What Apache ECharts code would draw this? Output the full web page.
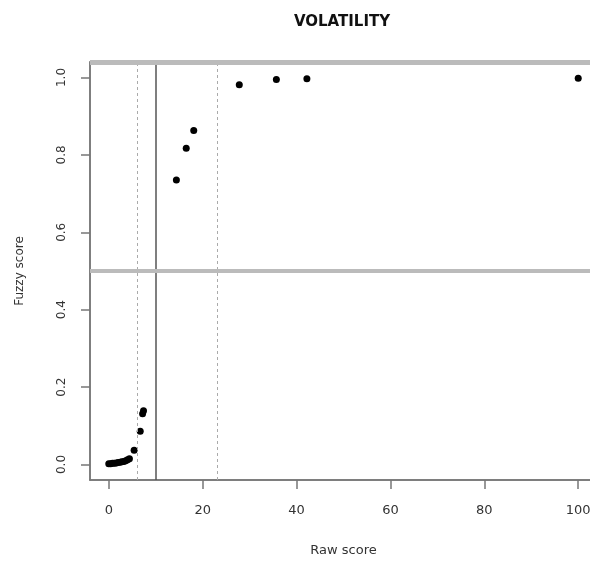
<!DOCTYPE html>
<html>
<head>
    <meta charset="utf-8">
    <title>VOLATILITY</title>
    <script src="https://cdn.jsdelivr.net/npm/echarts@6/dist/echarts.min.js"></script>
    <style>
        body { margin: 0; background: #fff; }
    </style>
</head>
<body>
<div id="main" style="width: 590px;height:563px;"></div>
<script type="text/javascript">
    // raw score vs fuzzy score
    var rawScore = [0, 0.4, 0.8, 1.2, 1.6, 2.0, 2.4, 2.8, 3.2, 3.6, 4.0, 4.4,
                    5.4, 6.7, 7.2, 7.4, 14.4, 16.5, 18.1, 27.8, 35.7, 42.2, 100];
    var fuzzyScore = [0.002, 0.002, 0.003, 0.003, 0.004, 0.005, 0.006, 0.007, 0.008, 0.010, 0.012, 0.015,
                      0.037, 0.086, 0.131, 0.139, 0.735, 0.817, 0.863, 0.981, 0.995, 0.997, 0.998];
    var xTicks = [0, 20, 40, 60, 80, 100];
    var yTicks = [0, 0.2, 0.4, 0.6, 0.8, 1.0];
    var dottedCuts = [6, 23];   // dotted vertical lines
    var solidCut = 10;          // solid vertical line
    var hLine = 0.5;

    var points = [];
    for (var i = 0; i < rawScore.length; i++) {
        points.push([rawScore[i], fuzzyScore[i]]);
    }

    var vLines = [];
    dottedCuts.forEach(function (v) {
        vLines.push({ xAxis: v, lineStyle: { color: '#aaa', type: [3, 3], width: 1 } });
    });
    vLines.push({ xAxis: solidCut, lineStyle: { color: '#555', type: 'solid', width: 1.5 } });
    vLines.push({ yAxis: hLine, lineStyle: { color: '#bbb', type: 'solid', width: 4 } });
    vLines.push({ yAxis: 1.04, lineStyle: { color: '#bbb', type: 'solid', width: 5 } });

    var font = 'DejaVu Sans, Liberation Sans, sans-serif';
    var myChart = echarts.init(document.getElementById('main'));
    var option = {
        animation: false,
        title: {
            text: 'VOLATILITY',
            left: 337,
            top: 10,
            textAlign: 'center',
            textStyle: { fontFamily: font, fontSize: 15, fontWeight: 'bold', color: '#111' }
        },
        grid: {
            left: 90, top: 62, width: 507, height: 418,
            outerBoundsMode: 'none',
            containLabel: false,
            show: true, borderColor: '#777', borderWidth: 1.5
        },
        xAxis: {
            type: 'value',
            min: -4, max: 104,
            name: 'Raw score',
            nameLocation: 'middle',
            nameGap: 64,
            nameTextStyle: { fontFamily: font, fontSize: 13, color: '#333' },
            axisLine: { show: true, onZero: false, lineStyle: { color: '#777', width: 1.5 } },
            axisTick: { show: true, inside: false, length: 9, customValues: xTicks, lineStyle: { color: '#777', width: 1.5 } },
            axisLabel: { customValues: xTicks, margin: 24, fontFamily: font, fontSize: 13, color: '#333' },
            splitLine: { show: false }
        },
        yAxis: {
            type: 'value',
            min: -0.04, max: 1.04,
            name: 'Fuzzy score',
            nameLocation: 'middle',
            nameGap: 64,
            nameTextStyle: { fontFamily: font, fontSize: 12, color: '#333' },
            axisLine: { show: true, onZero: false, lineStyle: { color: '#777', width: 1.5 } },
            axisTick: { show: true, inside: false, length: 9, customValues: yTicks, lineStyle: { color: '#777', width: 1.5 } },
            axisLabel: {
                customValues: yTicks, rotate: 90, margin: 22,
                fontFamily: font, fontSize: 12, color: '#333',
                formatter: function (v) { return v.toFixed(1); }
            },
            splitLine: { show: false }
        },
        series: [{
            type: 'scatter',
            data: points,
            symbol: 'circle',
            symbolSize: 7,
            itemStyle: { color: '#000', opacity: 1 },
            markLine: {
                silent: true,
                symbol: 'none',
                label: { show: false },
                data: vLines
            }
        }]
    };
    myChart.setOption(option);
</script>
</body>
</html>
